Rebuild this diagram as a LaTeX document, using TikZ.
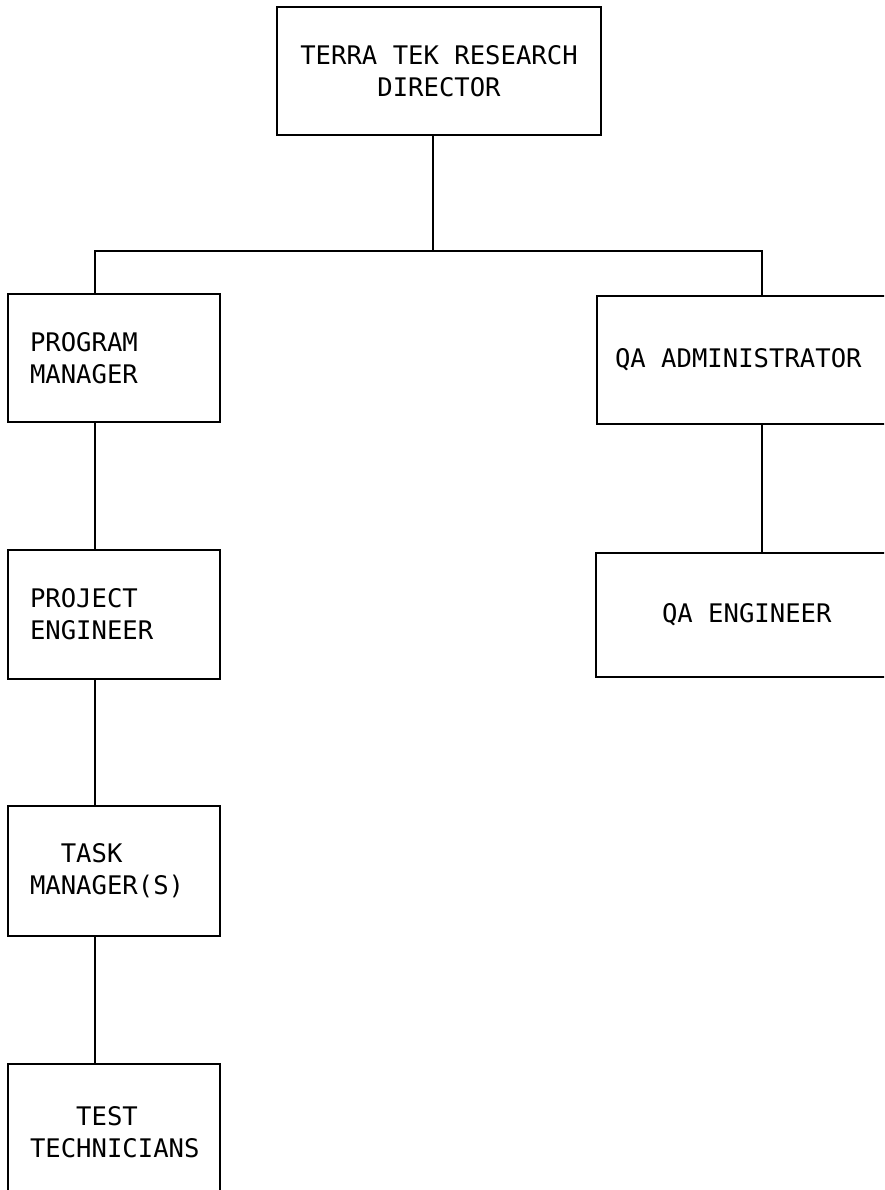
\documentclass[tikz,border=0pt]{standalone}
\usepackage{fontspec}
\newfontfamily\tw[WordSpace={1,0,0}]{DejaVu Sans Mono}
\begin{document}
\begin{tikzpicture}[x=1pt,y=-1pt,
  box/.style={draw, line width=2.6pt, inner ysep=0pt,
    font=\tw\fontsize{25.6}{32}\selectfont},
  lbox/.style={box, minimum width=212pt, inner xsep=22pt, text width=168pt, align=left},
  link/.style={line width=2.6pt}]
\clip (0,0) rectangle (884,1190);
\fill[white] (0,0) rectangle (884,1190);
% boxes
\node[box, minimum width=324pt, minimum height=128pt, align=center] (top) at (439,71)
  {TERRA TEK RESEARCH\\DIRECTOR};
\node[lbox, minimum height=128pt] (pm) at (114,358) {PROGRAM\\MANAGER};
\node[lbox, minimum height=129pt] (pe) at (114,614.5) {PROJECT\\ENGINEER};
\node[lbox, minimum height=130pt] (tm) at (114,871) {\hspace*{30.8pt}TASK\\MANAGER(S)};
\node[lbox, minimum height=136pt] (tt) at (114,1132) {\hspace*{46.2pt}TEST\\TECHNICIANS};
\node[box, minimum width=303pt, minimum height=128pt, inner xsep=18pt, text width=267pt, align=left] (qaa) at (748.5,360) {\spaceskip=0pt QA ADMINISTRATOR};
\node[box, minimum width=304pt, minimum height=124pt, inner xsep=66pt, text width=180pt, align=left] (qae) at (752,615) {\spaceskip=0pt QA ENGINEER};
% connector coordinates
\coordinate (j) at (433,251);
\coordinate (lx) at (95,0);
\coordinate (rx) at (762,0);
% connectors
\draw[link] (top.south -| j) -- (j);
\draw[link] (pm.north -| lx) -- (lx |- j) -- (rx |- j) -- (qaa.north -| rx);
\draw[link] (pm.south -| lx) -- (pe.north -| lx);
\draw[link] (pe.south -| lx) -- (tm.north -| lx);
\draw[link] (tm.south -| lx) -- (tt.north -| lx);
\draw[link] (qaa.south -| rx) -- (qae.north -| rx);
\end{tikzpicture}
\end{document}
